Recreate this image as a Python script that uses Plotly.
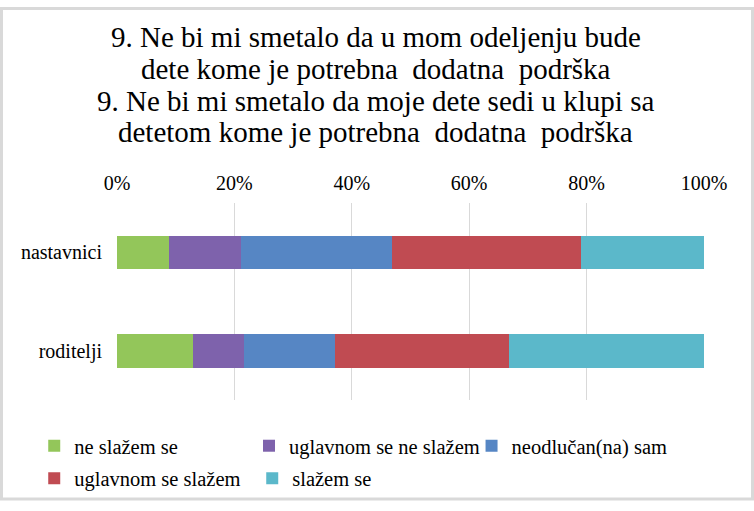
import plotly.graph_objects as go

# survey groups (top to bottom) and answer shares in percent
groups = ['nastavnici', 'roditelji']
answers = ['ne slažem se', 'uglavnom se ne slažem', 'neodlučan(na) sam',
           'uglavnom se slažem', 'slažem se']
ne_slazem = [8.8, 12.9]
uglavnom_ne = [12.4, 8.7]
neodlucan = [25.6, 15.6]
uglavnom_da = [32.2, 29.5]
slazem = [21.0, 33.3]
colors = ['#93C65A', '#7E62AC', '#5686C4', '#C04B52', '#5BB8CA']
# legend blocks laid out like the original (row 1: 3 single items, row 2: 2 items)
legend_rows = ['legend', 'legend4', 'legend3', 'legend2', 'legend2']

title_lines = ['9. Ne bi mi smetalo da u mom odeljenju bude',
               'dete kome je potrebna  dodatna  podrška',
               '9. Ne bi mi smetalo da moje dete sedi u klupi sa',
               'detetom kome je potrebna  dodatna  podrška']

serif = 'Liberation Serif'

fig = go.Figure()
for name, vals, col, leg in zip(answers,
                                [ne_slazem, uglavnom_ne, neodlucan, uglavnom_da, slazem],
                                colors, legend_rows):
    fig.add_trace(go.Bar(y=groups, x=vals, name=name, orientation='h',
                         marker=dict(color=col, line=dict(width=0)),
                         width=0.34, legend=leg))

# title: one annotation per line so the tight line spacing of the original is kept
for i, line in enumerate(title_lines):
    fig.add_annotation(text=line, xref='paper', yref='paper',
                       x=0.441, y=1.8407 - i * 0.1608,
                       xanchor='center', yanchor='middle', showarrow=False,
                       font=dict(family=serif, size=29, color='black'))

leg_font = dict(family=serif, size=20.5, color='black')
single = dict(orientation='h', xanchor='left', yanchor='middle',
              font=leg_font, bgcolor='rgba(0,0,0,0)')
row_style = dict(single, entrywidth=173, entrywidthmode='pixels',
                 traceorder='normal')

fig.update_layout(
    width=754, height=511,
    barmode='stack',
    paper_bgcolor='white', plot_bgcolor='white',
    margin=dict(l=117, r=50, t=203, b=104),
    font=dict(family=serif, size=20, color='black'),
    legend=dict(x=-0.141, y=-0.233, **single),
    legend4=dict(x=0.2249, y=-0.233, **single),
    legend3=dict(x=0.604, y=-0.233, **single),
    legend2=dict(x=-0.141, y=-0.398, **row_style),
    showlegend=True,
    shapes=[dict(type='rect', xref='paper', yref='paper',
                 x0=-0.1968, x1=1.0826, y0=-0.5025, y1=1.9877,
                 line=dict(color='#D9D9D9', width=3), layer='below')],
)
fig.update_xaxes(side='top', range=[0, 100], tickvals=[0, 20, 40, 60, 80, 100],
                 ticktext=['0%', '20%', '40%', '60%', '80%', '100%'],
                 showgrid=True, gridcolor='#D9D9D9', gridwidth=1,
                 zeroline=False, showline=False, ticks='',
                 ticklabelstandoff=8, fixedrange=True)
fig.update_yaxes(autorange='reversed', showgrid=False, zeroline=False,
                 showline=False, ticks='', ticklabelstandoff=14,
                 automargin=False, fixedrange=True)

fig.write_html("out.html", config={'displayModeBar': False},
               post_script="document.body.style.margin='0';")
